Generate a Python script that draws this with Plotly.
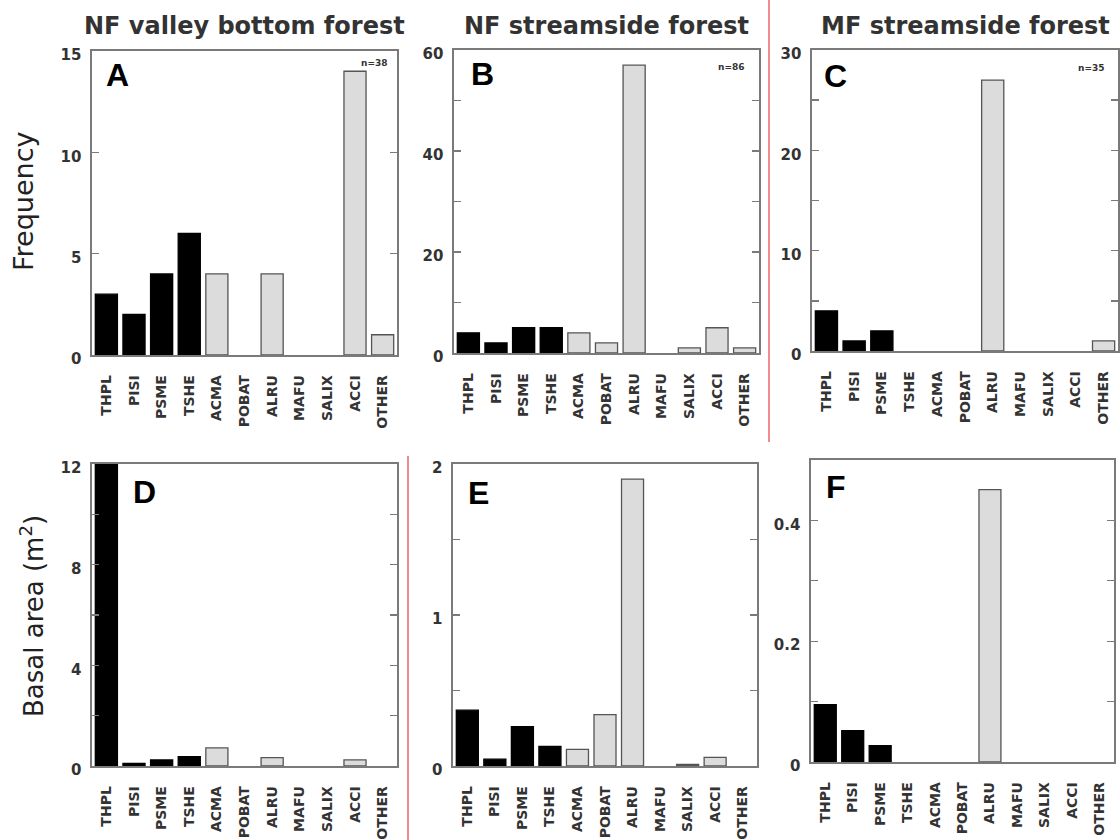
import plotly.graph_objects as go

# ---------------- data ----------------
species = ["THPL", "PISI", "PSME", "TSHE", "ACMA", "POBAT", "ALRU", "MAFU", "SALIX", "ACCI", "OTHER"]
conifers = ["THPL", "PISI", "PSME", "TSHE"]

freq_nf_valley = [3, 2, 4, 6, 4, 0, 4, 0, 0, 14, 1]
freq_nf_stream = [4, 2, 5, 5, 4, 2, 57, 0, 1, 5, 1]
freq_mf_stream = [4, 1, 2, 0, 0, 0, 27, 0, 0, 0, 1]

ba_nf_valley = [12.3, 0.1, 0.24, 0.37, 0.72, 0, 0.33, 0, 0, 0.24, 0]
ba_nf_stream = [0.37, 0.045, 0.26, 0.13, 0.11, 0.34, 1.9, 0, 0.01, 0.057, 0]
ba_mf_stream = [0.095, 0.052, 0.027, 0, 0, 0, 0.451, 0, 0, 0, 0]

panel_titles = ["NF valley bottom forest", "NF streamside forest", "MF streamside forest"]
panel_letters = ["A", "B", "C", "D", "E", "F"]
sample_sizes = ["n=38", "n=86", "n=35"]
y_titles = ["Frequency", "Basal area (m<sup>2</sup>)"]

y_ranges = [[0, 15], [0, 60], [0, 30], [0, 12], [0, 2], [0, 0.5]]
y_major_vals = [
    [0, 5, 10, 15],
    [0, 20, 40, 60],
    [0, 10, 20, 30],
    [0, 4, 8, 12],
    [0, 1, 2],
    [0, 0.2, 0.4],
]
y_major_text = [
    ["0", "5", "10", "15"],
    ["0", "20", "40", "60"],
    ["0", "10", "20", "30"],
    ["0", "4", "8", "12"],
    ["0", "1", "2"],
    ["0", "0.2", "0.4"],
]
y_minor_vals = [
    [],
    [10, 30, 50],
    [5, 15, 25],
    [2, 6, 10],
    [0.5, 1.5],
    [0.1, 0.3, 0.5],
]

series = [freq_nf_valley, freq_nf_stream, freq_mf_stream,
          ba_nf_valley, ba_nf_stream, ba_mf_stream]

# ---------------- layout geometry (pixels) ----------------
W, H = 1120, 840
# (left, right, top, bottom) of each plotting area in pixels
boxes = [
    (92, 397, 51, 355), (454, 759, 50, 353), (812, 1118, 50, 351),
    (92, 397, 464, 766), (453, 757, 464, 766), (811, 1114, 460, 762),
]

def px_x(x):
    return x / W

def px_y(y):
    return 1 - y / H

BLACK = "#000000"
LIGHT = "#dcdcdc"
FRAME = "#7a7a7a"
TXT = "#333333"

fill_colors = [BLACK if s in conifers else LIGHT for s in species]
line_colors = [BLACK if s in conifers else "#555555" for s in species]

fig = go.Figure()
layout = dict(
    template="none",
    width=W, height=H, autosize=False,
    margin=dict(l=0, r=0, t=0, b=0, pad=0),
    paper_bgcolor="white", plot_bgcolor="white",
    showlegend=False,
    font=dict(family="DejaVu Sans", color=TXT),
)

for i, vals in enumerate(series):
    n = "" if i == 0 else str(i + 1)
    widths = [1.3 if v > 0 else 0 for v in vals]
    fig.add_trace(go.Bar(
        x=species, y=vals, xaxis="x" + n, yaxis="y" + n,
        marker=dict(color=fill_colors, line=dict(color=line_colors, width=widths)),
        width=0.8, cliponaxis=True, hoverinfo="skip",
    ))
    l, r, t, b = boxes[i]
    layout["xaxis" + n] = dict(
        domain=[px_x(l), px_x(r)], anchor="y" + n, automargin=False,
        range=[-0.52, 10.52], showgrid=False, zeroline=False,
        showline=True, mirror=True, linecolor=FRAME, linewidth=1.6,
        ticks="", tickangle=-90, ticklabelstandoff=13,
        tickfont=dict(family="DejaVu Sans", size=14, weight="bold", color=TXT),
        fixedrange=True,
    )
    yax = dict(
        domain=[px_y(b), px_y(t)], anchor="x" + n, automargin=False,
        range=y_ranges[i], showgrid=False, zeroline=False,
        showline=True, mirror="ticks", linecolor=FRAME, linewidth=1.6,
        ticks="inside", ticklen=7, tickwidth=1.4, tickcolor=FRAME,
        tickmode="array", tickvals=y_major_vals[i], ticktext=y_major_text[i],
        ticklabelstandoff=6, ticklabelshift=4,
        tickfont=dict(family="DejaVu Sans", size=15, weight="bold", color=TXT),
        fixedrange=True,
    )
    if y_minor_vals[i]:
        yax["minor"] = dict(tickmode="array", tickvals=y_minor_vals[i],
                            ticks="inside", ticklen=7, tickwidth=1.4,
                            tickcolor=FRAME, showgrid=False)
    layout["yaxis" + n] = yax

annotations = []
# column titles
for j, title in enumerate(panel_titles):
    l, r, t, b = boxes[j]
    annotations.append(dict(
        text=title, x=px_x((l + r) / 2), y=px_y(26), xref="paper", yref="paper",
        xanchor="center", yanchor="middle", showarrow=False,
        font=dict(family="DejaVu Sans", size=24, weight="bold", color=TXT),
    ))
# panel letters
letter_pos = [(104, 75), (469, 74), (822, 76), (131, 492), (466, 493), (824, 487)]
for k, letter in enumerate(panel_letters):
    lx, ly = letter_pos[k]
    annotations.append(dict(
        text=letter, x=px_x(lx), y=px_y(ly), xref="paper", yref="paper",
        xanchor="left", yanchor="middle", showarrow=False,
        font=dict(family="Liberation Sans", size=32, weight="bold", color="#000000"),
    ))
# sample sizes
n_pos = [(389, 63), (746, 67), (1106, 68)]
for k, txt in enumerate(sample_sizes):
    nx, ny = n_pos[k]
    annotations.append(dict(
        text=txt, x=px_x(nx), y=px_y(ny), xref="paper", yref="paper",
        xanchor="right", yanchor="middle", showarrow=False,
        font=dict(family="DejaVu Sans", size=9, weight="bold", color=TXT),
    ))
# y axis titles
yt_pos = [(23, 201), (32, 616)]
yt_size = [27, 26]
for k, txt in enumerate(y_titles):
    tx, ty = yt_pos[k]
    annotations.append(dict(
        text=txt, x=px_x(tx), y=px_y(ty), xref="paper", yref="paper",
        xanchor="center", yanchor="middle", textangle=-90, showarrow=False,
        font=dict(family="DejaVu Sans", size=yt_size[k], color="#222222"),
    ))
layout["annotations"] = annotations

# red separator lines
layout["shapes"] = [
    dict(type="line", xref="paper", yref="paper", x0=px_x(769), x1=px_x(769),
         y0=px_y(0), y1=px_y(442), line=dict(color="#f28b8b", width=2)),
    dict(type="line", xref="paper", yref="paper", x0=px_x(408), x1=px_x(408),
         y0=px_y(456), y1=px_y(840), line=dict(color="#f28b8b", width=2)),
]

fig.update_layout(**layout)
fig.write_html(
    "out.html",
    config={"displayModeBar": False, "staticPlot": True},
    post_script="document.body.style.margin='0px';document.body.style.overflow='hidden';",
)
